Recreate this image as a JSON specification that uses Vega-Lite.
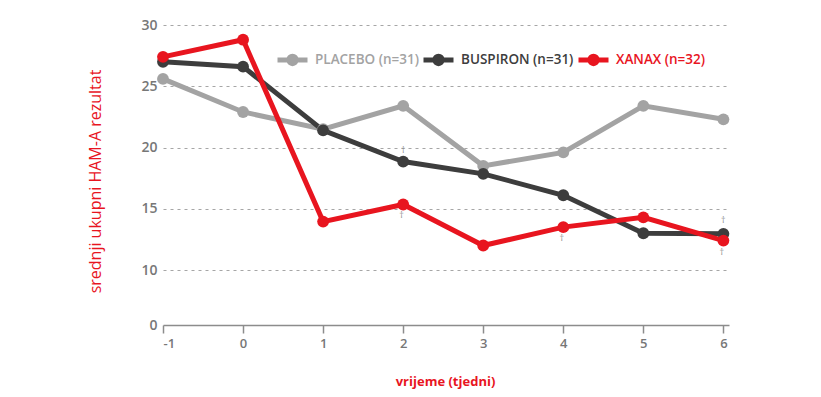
{
  "$schema": "https://vega.github.io/schema/vega-lite/v6.json",
  "autosize": {"type": "none"},
  "padding": {"left": 163, "top": 25, "right": 92, "bottom": 72},
  "width": 566,
  "height": 300,
  "config": {
    "view": {"stroke": null},
    "font": "Open Sans"
  },
  "datasets": {
    "series": [
      {"week": -1, "score": 25.6, "group": "PLACEBO (n=31)"},
      {"week": 0, "score": 22.9, "group": "PLACEBO (n=31)"},
      {"week": 1, "score": 21.5, "group": "PLACEBO (n=31)"},
      {"week": 2, "score": 23.4, "group": "PLACEBO (n=31)"},
      {"week": 3, "score": 18.5, "group": "PLACEBO (n=31)"},
      {"week": 4, "score": 19.6, "group": "PLACEBO (n=31)"},
      {"week": 5, "score": 23.4, "group": "PLACEBO (n=31)"},
      {"week": 6, "score": 22.3, "group": "PLACEBO (n=31)"},
      {"week": -1, "score": 27.0, "group": "BUSPIRON (n=31)"},
      {"week": 0, "score": 26.6, "group": "BUSPIRON (n=31)"},
      {"week": 1, "score": 21.4, "group": "BUSPIRON (n=31)"},
      {"week": 2, "score": 18.85, "group": "BUSPIRON (n=31)"},
      {"week": 3, "score": 17.85, "group": "BUSPIRON (n=31)"},
      {"week": 4, "score": 16.1, "group": "BUSPIRON (n=31)"},
      {"week": 5, "score": 13.0, "group": "BUSPIRON (n=31)"},
      {"week": 6, "score": 12.95, "group": "BUSPIRON (n=31)"},
      {"week": -1, "score": 27.4, "group": "XANAX (n=32)"},
      {"week": 0, "score": 28.8, "group": "XANAX (n=32)"},
      {"week": 1, "score": 13.95, "group": "XANAX (n=32)"},
      {"week": 2, "score": 15.35, "group": "XANAX (n=32)"},
      {"week": 3, "score": 12.0, "group": "XANAX (n=32)"},
      {"week": 4, "score": 13.5, "group": "XANAX (n=32)"},
      {"week": 5, "score": 14.3, "group": "XANAX (n=32)"},
      {"week": 6, "score": 12.4, "group": "XANAX (n=32)"}
    ],
    "marks": [
      {"week": 2, "score": 19.8, "sign": "†"},
      {"week": 1.98, "score": 14.5, "sign": "†"},
      {"week": 3.98, "score": 12.6, "sign": "†"},
      {"week": 6, "score": 14.1, "sign": "†"},
      {"week": 5.98, "score": 11.5, "sign": "†"}
    ]
  },
  "encoding": {
    "x": {
      "field": "week",
      "type": "quantitative",
      "scale": {"domain": [-1, 6.07], "nice": false, "zero": false},
      "axis": {
        "values": [-1, 0, 1, 2, 3, 4, 5, 6],
        "labelExpr": "toString(datum.value)",
        "grid": false,
        "domainColor": "#8c8c8c",
        "domainWidth": 1.5,
        "tickColor": "#8c8c8c",
        "tickWidth": 1.5,
        "tickSize": 8,
        "labelColor": "#777777",
        "labelFontSize": 13,
        "labelFontWeight": 600,
        "labelPadding": 4,
        "title": "vrijeme (tjedni)",
        "titleColor": "#e8151f",
        "titleFontSize": 13,
        "titleFontWeight": "bold",
        "titleX": 282,
        "titleY": 56,
        "titleBaseline": "middle"
      }
    },
    "y": {
      "field": "score",
      "type": "quantitative",
      "scale": {"domain": [0, 10, 30], "range": [300, 245, 0], "nice": false, "zero": false},
      "axis": {
        "values": [0, 10, 15, 20, 25, 30],
        "domain": false,
        "ticks": false,
        "grid": true,
        "gridColor": "#a6a6a6",
        "gridDash": [3, 4],
        "gridWidth": 1.2,
        "gridOpacity": {"condition": {"test": "datum.value == 0", "value": 0}, "value": 1},
        "labelColor": "#777777",
        "labelFontSize": 14,
        "labelFontWeight": 600,
        "labelPadding": 6,
        "title": "srednji ukupni HAM-A rezultat",
        "titleColor": "#e8151f",
        "titleFontSize": 16,
        "titleFontWeight": 500,
        "titleAngle": -90,
        "titleX": -68,
        "titleY": 156,
        "titleAlign": "center",
        "titleBaseline": "middle"
      }
    }
  },
  "layer": [
    {
      "data": {"name": "series"},
      "mark": {"type": "line", "strokeWidth": 5, "point": {"filled": true, "size": 140, "opacity": 1}},
      "encoding": {
        "color": {
          "field": "group",
          "type": "nominal",
          "sort": ["PLACEBO (n=31)", "BUSPIRON (n=31)", "XANAX (n=32)"],
          "scale": {"domain": ["PLACEBO (n=31)", "BUSPIRON (n=31)", "XANAX (n=32)"], "range": ["#a3a3a3", "#3d3d3d", "#e8151f"]},
          "legend": {
            "orient": "none",
            "direction": "horizontal",
            "legendX": 112,
            "legendY": 17,
            "title": null,
            "symbolType": "M-1,0H1M-0.25,0A0.25,0.25 0 1,1 0.25,0A0.25,0.25 0 1,1 -0.25,0",
            "symbolSize": 900,
            "symbolStrokeWidth": 5,
            "labelFontSize": 13.5,
            "labelFontWeight": 600,
            "labelColor": {"expr": "datum.label == 'XANAX (n=32)' ? '#e8151f' : datum.label == 'BUSPIRON (n=31)' ? '#3d3d3d' : '#a3a3a3'"},
            "labelOffset": 5,
            "columnPadding": -6
          }
        },
        "order": {"field": "week", "type": "quantitative"}
      }
    },
    {
      "data": {"name": "marks"},
      "mark": {"type": "text", "fontSize": 9, "color": "#8c8c8c"},
      "encoding": {
        "text": {"field": "sign", "type": "nominal"}
      }
    }
  ]
}
